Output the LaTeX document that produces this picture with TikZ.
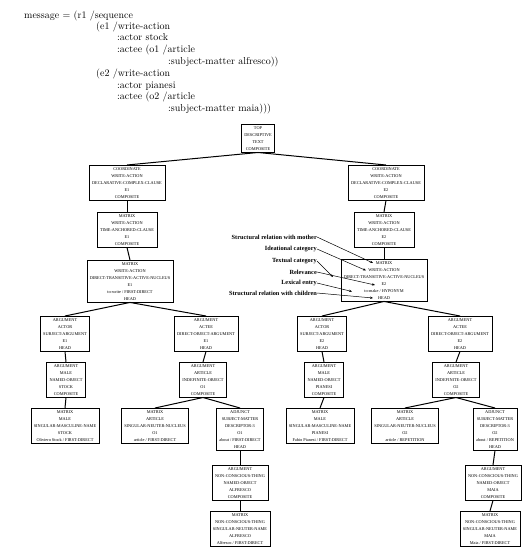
\documentclass[tikz,border=0pt]{standalone}
\usepackage{fontspec}
\newfontfamily\boxfont{Liberation Serif}
\usetikzlibrary{arrows.meta, calc}

\begin{document}
\begin{tikzpicture}[x=1pt, y=-1pt,
  >={Stealth[length=3pt, width=2.4pt]},
  tbox/.style={draw, line width=0.6pt, anchor=north, align=center,
    inner xsep=3pt, inner ysep=2pt,
    font=\boxfont\fontsize{4.3}{7}\selectfont},
  code/.style={anchor=base west, inner sep=0pt, font=\fontsize{10}{12}\selectfont},
  link/.style={line width=1pt},
  lab/.style={anchor=east, inner sep=0pt,
    font=\boxfont\bfseries\fontsize{6.3}{7}\selectfont},
  ann/.style={->, line width=0.5pt},
]

\useasboundingbox (0,0) rectangle (523,550);

% =============================================
% Message specification
% =============================================
\node[code] (hd1) at (24,18.5)  {message = (r1 /sequence};
\node[code] (hd2) at (96,29.5)  {(e1 /write-action};
\node[code] (hd3) at (117,40.5) {:actor stock};
\node[code] (hd4) at (117,52.5) {:actee (o1 /article};
\node[code] (hd5) at (168,64.5) {:subject-matter alfresco))};
\node[code] (hd6) at (96,76.5)  {(e2 /write-action};
\node[code] (hd7) at (117,88.5) {:actor pianesi};
\node[code] (hd8) at (117,99.5) {:actee (o2 /article};
\node[code] (hd9) at (168,111.5) {:subject-matter maia)))};

% =============================================
% Text structure tree
% =============================================
\node[tbox] (top) at (258,124)
  {TOP\\DESCRIPTIVE\\TEXT\\COMPOSITE};

% Left branch (e1)
\node[tbox] (coordE1) at (127,165)
  {COORDINATE\\WRITE-ACTION\\DECLARATIVE-COMPLEX-CLAUSE\\E1\\COMPOSITE};
\node[tbox] (matE1) at (127,212)
  {MATRIX\\WRITE-ACTION\\TIME-ANCHORED-CLAUSE\\E1\\COMPOSITE};
\node[tbox] (nucE1) at (130,260)
  {MATRIX\\WRITE-ACTION\\DIRECT-TRANSITIVE-ACTIVE-NUCLEUS\\E1\\to-write / FIRST-DIRECT\\HEAD};
\node[tbox] (actorE1) at (65,316)
  {ARGUMENT\\ACTOR\\SUBJECT-ARGUMENT\\E1\\HEAD};
\node[tbox] (acteeE1) at (206,316)
  {ARGUMENT\\ACTEE\\DIRECT-OBJECT-ARGUMENT\\E1\\HEAD};
\node[tbox] (argStock) at (66,362)
  {ARGUMENT\\MALE\\NAMED-OBJECT\\STOCK\\COMPOSITE};
\node[tbox] (argO1) at (203,362)
  {ARGUMENT\\ARTICLE\\INDEFINITE-OBJECT\\O1\\COMPOSITE};
\node[tbox] (matStock) at (65,408)
  {MATRIX\\MALE\\SINGULAR-MASCULINE-NAME\\STOCK\\Oliviero Stock / FIRST-DIRECT};
\node[tbox] (matO1) at (155,408)
  {MATRIX\\ARTICLE\\SINGULAR-NEUTER-NUCLEUS\\O1\\article / FIRST-DIRECT};
\node[tbox] (adjO1) at (240,408)
  {ADJUNCT\\SUBJECT-MATTER\\DESCRIPTOR-3\\O1\\about / FIRST-DIRECT\\HEAD};
\node[tbox] (argAlfresco) at (240,465)
  {ARGUMENT\\NON-CONSCIOUS-THING\\NAMED-OBJECT\\ALFRESCO\\COMPOSITE};
\node[tbox] (matAlfresco) at (240,511)
  {MATRIX\\NON-CONSCIOUS-THING\\SINGULAR-NEUTER-NAME\\ALFRESCO\\Alfresco / FIRST-DIRECT};

% Right branch (e2)
\node[tbox] (coordE2) at (386,165)
  {COORDINATE\\WRITE-ACTION\\DECLARATIVE-COMPLEX-CLAUSE\\E2\\COMPOSITE};
\node[tbox] (matE2) at (384,212)
  {MATRIX\\WRITE-ACTION\\TIME-ANCHORED-CLAUSE\\E2\\COMPOSITE};
\node[tbox] (nucE2) at (384,259)
  {MATRIX\\WRITE-ACTION\\DIRECT-TRANSITIVE-ACTIVE-NUCLEUS\\E2\\to-make / HYPONYM\\HEAD};
\node[tbox] (actorE2) at (322,316)
  {ARGUMENT\\ACTOR\\SUBJECT-ARGUMENT\\E2\\HEAD};
\node[tbox] (acteeE2) at (460,316)
  {ARGUMENT\\ACTEE\\DIRECT-OBJECT-ARGUMENT\\E2\\HEAD};
\node[tbox] (argPianesi) at (324,362)
  {ARGUMENT\\MALE\\NAMED-OBJECT\\PIANESI\\COMPOSITE};
\node[tbox] (argO2) at (456,362)
  {ARGUMENT\\ARTICLE\\INDEFINITE-OBJECT\\O2\\COMPOSITE};
\node[tbox] (matPianesi) at (320,408)
  {MATRIX\\MALE\\SINGULAR-MASCULINE-NAME\\PIANESI\\Fabio Pianesi / FIRST-DIRECT};
\node[tbox] (matO2) at (405,408)
  {MATRIX\\ARTICLE\\SINGULAR-NEUTER-NUCLEUS\\O2\\article / REPETITION};
\node[tbox] (adjO2) at (495,408)
  {ADJUNCT\\SUBJECT-MATTER\\DESCRIPTOR-3\\O2\\about / REPETITION\\HEAD};
\node[tbox] (argMaia) at (493,465)
  {ARGUMENT\\NON-CONSCIOUS-THING\\NAMED-OBJECT\\MAIA\\COMPOSITE};
\node[tbox] (matMaia) at (490,511)
  {MATRIX\\NON-CONSCIOUS-THING\\SINGULAR-NEUTER-NAME\\MAIA\\Maia / FIRST-DIRECT};

% Tree links
\draw[link] (top.south) -- (coordE1.north);
\draw[link] (top.south) -- (coordE2.north);
\draw[link] (coordE1.south) -- (matE1.north);
\draw[link] (matE1.south) -- (nucE1.north);
\draw[link] (nucE1.south) -- (actorE1.north);
\draw[link] (nucE1.south) -- (acteeE1.north);
\draw[link] (actorE1.south) -- (argStock.north);
\draw[link] (acteeE1.south) -- (argO1.north);
\draw[link] (argStock.south) -- (matStock.north);
\draw[link] (argO1.south) -- (matO1.north);
\draw[link] (argO1.south) -- (adjO1.north);
\draw[link] (adjO1.south) -- (argAlfresco.north);
\draw[link] (argAlfresco.south) -- (matAlfresco.north);

\draw[link] (coordE2.south) -- (matE2.north);
\draw[link] (matE2.south) -- (nucE2.north);
\draw[link] (nucE2.south) -- (actorE2.north);
\draw[link] (nucE2.south) -- (acteeE2.north);
\draw[link] (actorE2.south) -- (argPianesi.north);
\draw[link] (acteeE2.south) -- (argO2.north);
\draw[link] (argPianesi.south) -- (matPianesi.north);
\draw[link] (argO2.south) -- (matO2.north);
\draw[link] (argO2.south) -- (adjO2.north);
\draw[link] (adjO2.south) -- (argMaia.north);
\draw[link] (argMaia.south) -- (matMaia.north);

% =============================================
% Annotation of the node fields
% =============================================
\node[lab] (lMother) at (317,237) {Structural relation with mother};
\node[lab] (lIdea)   at (317,249) {Ideational category};
\node[lab] (lText)   at (317,261) {Textual category};
\node[lab] (lRel)    at (317,272) {Relevance};
\node[lab] (lLex)    at (317,283) {Lexical entry};
\node[lab] (lChild)  at (317,293) {Structural relation with children};

\coordinate (tMother) at (373,263);
\coordinate (tIdea)   at (366,270.5);
\coordinate (tText)   at (333,277);
\coordinate (tRel)    at (375,285);
\coordinate (tLex)    at (352,291.5);
\coordinate (tChild)  at (373,298);

\draw[ann] (lMother.east) -- (tMother);
\draw[ann] (lIdea.east) -- (tIdea);
\draw[ann] (lText.east) -- (tText);
\draw[ann] (lRel.east) -- (tRel);
\draw[ann] (lLex.east) -- (tLex);
\draw[ann] (lChild.east) -- (tChild);

\end{tikzpicture}
\end{document}
